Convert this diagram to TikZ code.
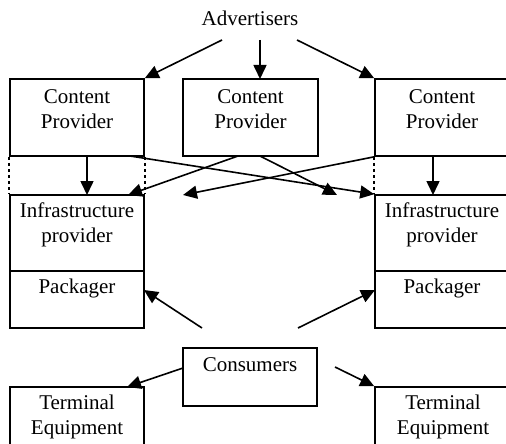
\documentclass[tikz,border=0pt]{standalone}
\usepackage{fontspec}
\setmainfont{Liberation Serif}
\usetikzlibrary{arrows.meta}
\begin{document}
\begin{tikzpicture}[x=1pt,y=-1pt,
  box/.style={draw, line width=1.6pt, rectangle, inner sep=0pt},
  txt/.style={font=\fontsize{21}{25}\selectfont, align=center, inner sep=0pt},
  arr/.style={line width=1.6pt, -{Triangle[length=14pt,width=13pt]}},
  dsh/.style={line width=1.6pt, dash pattern=on 3pt off 3pt}]
\useasboundingbox (0,0) rectangle (506,444);
\clip (0,0) rectangle (506,444);
% boxes
\node[box, minimum width=134pt, minimum height=77pt] (cpL) at (77,117.5) {};
\node[box, minimum width=135pt, minimum height=77pt] (cpM) at (250.5,117.5) {};
\node[box, minimum width=134pt, minimum height=77pt] (cpR) at (442,117.5) {};
\node[box, minimum width=134pt, minimum height=76pt] (infL) at (77,233) {};
\node[box, minimum width=134pt, minimum height=57pt] (pkL) at (77,299.5) {};
\node[box, minimum width=134pt, minimum height=76pt] (infR) at (442,233) {};
\node[box, minimum width=134pt, minimum height=57pt] (pkR) at (442,299.5) {};
\node[box, minimum width=134pt, minimum height=58pt] (cons) at (250,377) {};
\node[box, minimum width=134pt, minimum height=66pt] (termL) at (77,420) {};
\node[box, minimum width=134pt, minimum height=66pt] (termR) at (442,420) {};
% texts
\node[txt] (adv) at (250,18) {Advertisers};
\node[txt] (tcpL) at (77,109.5) {Content\\Provider};
\node[txt] (tcpM) at (250.5,109.5) {Content\\Provider};
\node[txt] (tcpR) at (442,109.5) {Content\\Provider};
\node[txt] (tinfL) at (77,224.5) {Infrastructure\\provider};
\node[txt] (tinfR) at (442,224.5) {Infrastructure\\provider};
\node[txt] (tpkL) at (77,288) {Packager};
\node[txt] (tpkR) at (442,288) {Packager};
\node[txt] (tcons) at (250,365) {Consumers};
\node[txt] (ttermL) at (77,417) {Terminal\\Equipment};
\node[txt] (ttermR) at (443,417) {Terminal\\Equipment};
% free ends
\coordinate (a1) at (222,40);
\coordinate (a2) at (260,40);
\coordinate (a3) at (297,40);
\coordinate (m2) at (260,79);
\coordinate (l1) at (87,156);
\coordinate (l2) at (87,195);
\coordinate (r1) at (433,156);
\coordinate (r2) at (433,195);
\coordinate (x1) at (130,156);
\coordinate (x2) at (238,156);
\coordinate (x2e) at (128,195);
\coordinate (x3) at (260,156);
\coordinate (x3e) at (337,195);
\coordinate (x4e) at (183,195);
\coordinate (c1) at (202,328);
\coordinate (c1e) at (144,290);
\coordinate (c2) at (298,328);
\coordinate (c2e) at (375,290);
\coordinate (c3) at (183,368);
\coordinate (c3e) at (127,387);
\coordinate (c4) at (335,367);
% arrows
\draw[arr] (a1) -- (cpL.north east);
\draw[arr] (a2) -- (m2);
\draw[arr] (a3) -- (cpR.north west);
\draw[arr] (l1) -- (l2);
\draw[arr] (r1) -- (r2);
\draw[arr] (x1) -- (infR.north west);
\draw[arr] (x2) -- (x2e);
\draw[arr] (x3) -- (x3e);
\draw[arr] (cpR.south west) -- (x4e);
\draw[arr] (c1) -- (c1e);
\draw[arr] (c2) -- (c2e);
\draw[arr] (c3) -- (c3e);
\draw[arr] (c4) -- (termR.north west);
% dashed sides
\draw[dsh] (cpL.south west) -- (infL.north west);
\draw[dsh] (cpL.south east) -- (infL.north east);
\draw[dsh] (cpR.south west) -- (infR.north west);
\end{tikzpicture}
\end{document}
